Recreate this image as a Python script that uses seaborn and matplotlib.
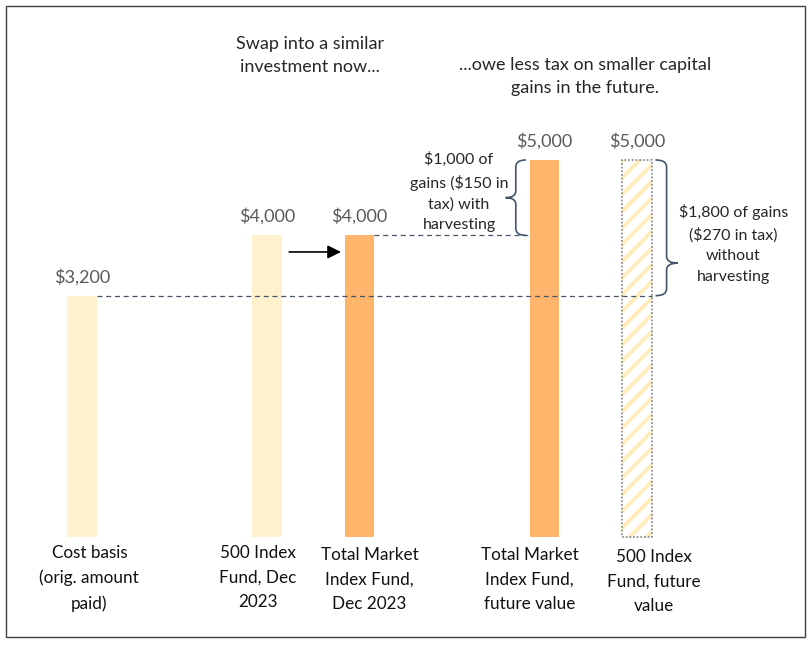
import pandas as pd
import seaborn as sns
import matplotlib.pyplot as plt
from matplotlib.patches import Rectangle, PathPatch
from matplotlib.path import Path

# Data
positions = [0, 2, 3, 5, 6]
values = [3200, 4000, 4000, 5000, 5000]
value_labels = ['$3,200', '$4,000', '$4,000', '$5,000', '$5,000']
categories = ['Cost basis\n(orig. amount\npaid)',
              '500 Index\nFund, Dec\n2023',
              'Total Market\nIndex Fund,\nDec 2023',
              'Total Market\nIndex Fund,\nfuture value',
              '500 Index\nFund, future\nvalue']
bar_colors = ['#FFF2CC', '#FFF2CC', '#FFB66C', '#FFB66C', '#FFFFFF']
note_left = 'Swap into a similar\ninvestment now...'
note_right = '...owe less tax on smaller capital\ngains in the future.'
gain_with = '$1,000 of\ngains ($150 in\ntax) with\nharvesting'
gain_without = '$1,800 of gains\n($270 in tax)\nwithout\nharvesting'

# the category text boxes are not centred exactly under the bars
label_shift = [0.08, -0.1, 0.11, -0.16, 0.18]
label_drop = [-105, -105, -135, -135, -160]

sns.set_style('white')
plt.rcParams['font.family'] = ['Lato', 'DejaVu Sans']
plt.rcParams['hatch.linewidth'] = 2.8

fig = plt.figure(figsize=(8.11, 6.46), dpi=100)
ax = fig.add_axes([0, 0, 1, 1])

df = pd.DataFrame({'pos': positions, 'value': values, 'label': categories})
sns.barplot(data=df, x='pos', y='value', hue='label', hue_order=categories,
            palette=bar_colors, saturation=1, dodge=False, native_scale=True,
            width=0.32, errorbar=None, legend=False, linewidth=0, ax=ax)

ax.set_xlim(-0.886, 7.881)
ax.set_ylim(-1445, 7121)
ax.set_axis_off()

# hatched "future value" bar with dotted outline
for p in list(ax.patches):
    if abs(p.get_x() + p.get_width() / 2 - positions[-1]) < 0.01:
        p.set_facecolor('white')
        p.set_edgecolor('#FFEDBC')
        p.set_hatch('//')
        p.set_linewidth(0)
        ax.add_patch(Rectangle(p.get_xy(), p.get_width(), p.get_height(),
                               fill=False, edgecolor='#7F7F7F', lw=1.1,
                               linestyle=(0, (1.2, 1.2)), zorder=3))
half = 0.16

# value and category labels
for x, v, vl, cat, dx, dy in zip(positions, values, value_labels, categories,
                                 label_shift, label_drop):
    ax.text(x, v + 140, vl, ha='center', va='bottom', fontsize=13, color='#595959')
    ax.text(x + dx, dy, cat, ha='center', va='top', fontsize=12.3,
            color='#111111', linespacing=1.65)

# reference dashed lines
dash = dict(color='#44546A', lw=0.9, linestyle=(0, (4, 3)), zorder=4)
ax.plot([positions[0] + half, positions[4] + half], [values[0], values[0]], **dash)
ax.plot([positions[2] + half, positions[3] - half], [values[2], values[2]], **dash)

# swap arrow
ax.annotate('', xy=(positions[2] - half - 0.01, 3780), xytext=(positions[1] + half + 0.05, 3780),
            arrowprops=dict(arrowstyle='-|>', color='black', lw=1.2, mutation_scale=20))


def brace(xv, y0, y1, ym, h, r=90):
    verts = [(xv + h, y1), (xv, y1), (xv, y1 - r),
             (xv, ym + r), (xv, ym), (xv - h, ym),
             (xv, ym), (xv, ym - r),
             (xv, y0 + r), (xv, y0), (xv + h, y0)]
    codes = [Path.MOVETO, Path.CURVE3, Path.CURVE3,
             Path.LINETO, Path.CURVE3, Path.CURVE3,
             Path.CURVE3, Path.CURVE3,
             Path.LINETO, Path.CURVE3, Path.CURVE3]
    ax.add_patch(PathPatch(Path(verts, codes), fill=False, edgecolor='#44546A', lw=1.2))


brace(positions[3] - 0.31, values[2], values[3], (values[2] + values[3]) / 2, 0.11)
brace(positions[4] + 0.32, values[0], values[4], values[0] + 0.24 * (values[4] - values[0]), -0.12)

ax.text(4.076, 4575, gain_with, ha='center', va='center', fontsize=11.5, linespacing=1.6)
ax.text(7.04, 3886, gain_without, ha='center', va='center', fontsize=11.5, linespacing=1.6)

ax.text(2.465, 6385, note_left, ha='center', va='center', fontsize=13, linespacing=1.6)
ax.text(5.44, 6106, note_right, ha='center', va='center', fontsize=13, linespacing=1.5)

# outer frame
fig.patches.append(Rectangle((6 / 811, 9 / 646), 799 / 811, 631 / 646, fill=False,
                             edgecolor='#404040', lw=1, transform=fig.transFigure, figure=fig))

fig.savefig('out.png', dpi=100)
